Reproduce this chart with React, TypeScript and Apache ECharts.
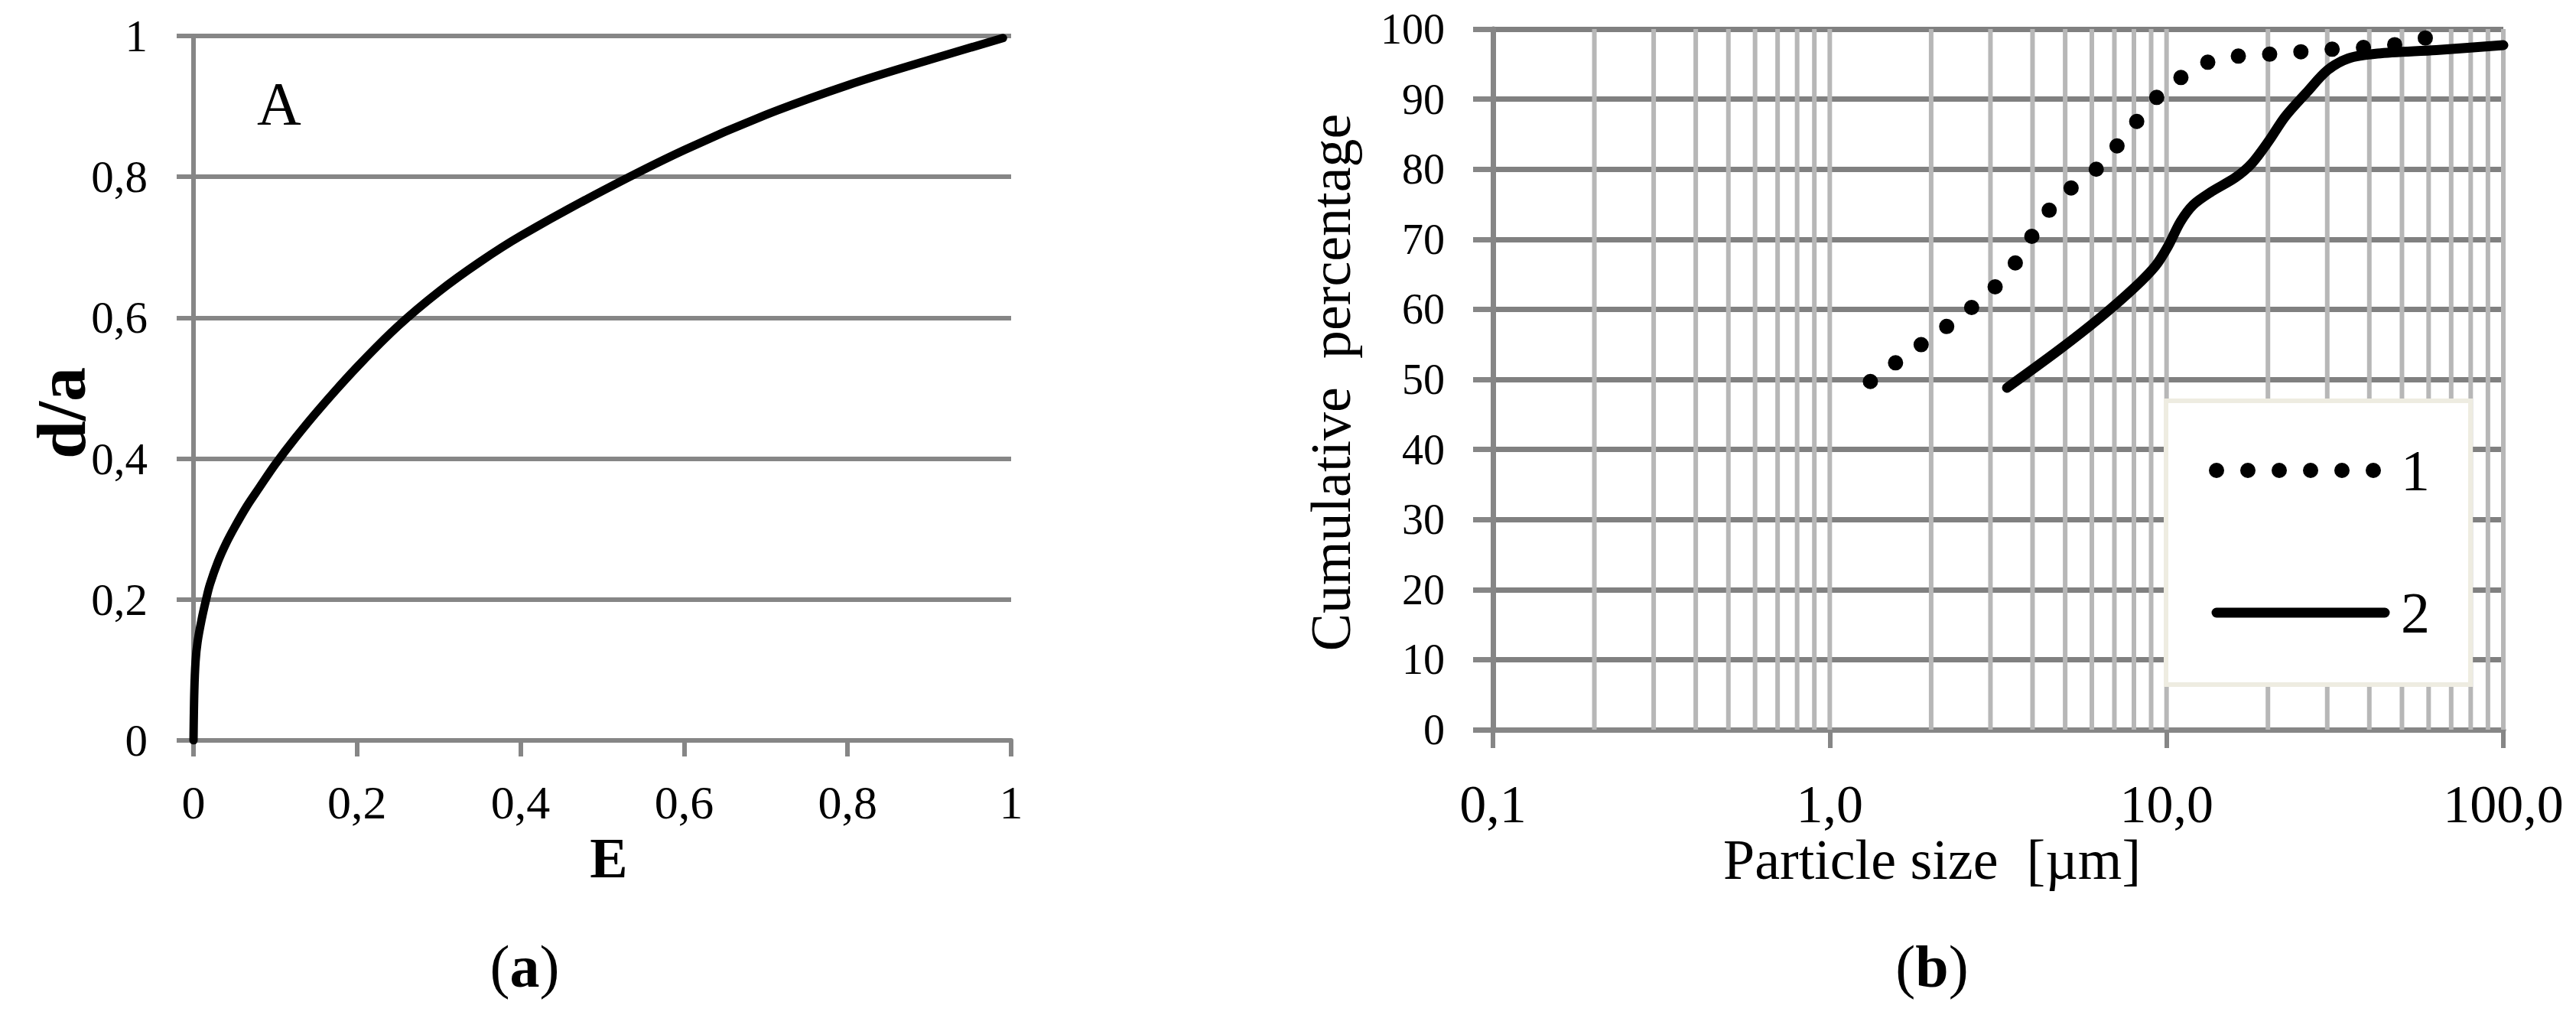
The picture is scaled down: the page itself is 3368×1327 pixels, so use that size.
import React, { useEffect, useRef } from "react";
import * as echarts from "echarts";

// ---------- Data ----------
// Panel (a): d/a versus E
const leftE = [0, 0.001, 0.0025, 0.005, 0.01, 0.015, 0.02, 0.03, 0.04, 0.05, 0.065, 0.08, 0.1, 0.125, 0.155, 0.2, 0.25, 0.3, 0.35, 0.4, 0.5, 0.6, 0.7, 0.8, 0.9, 0.99];
const leftDA = [0, 0.07, 0.112, 0.14, 0.172, 0.198, 0.221, 0.254, 0.28, 0.302, 0.332, 0.358, 0.392, 0.43, 0.472, 0.53, 0.588, 0.637, 0.679, 0.716, 0.78, 0.838, 0.888, 0.93, 0.966, 0.997];

// Panel (b): cumulative percentage versus particle size [µm]
const sizes1 = [1.32, 1.54, 1.81, 2.12, 2.49, 2.91, 3.34, 3.74, 4.11, 4.6, 5.31, 6.27, 7.12, 8.03, 9.11, 10.5, 12.3, 14.9, 18.1, 22.1, 26.7, 32.7, 39.5, 48.3, 58.4, 70.1];
const pct1 = [49.7, 52.1, 54.5, 56.8, 59.3, 61.9, 64.8, 68.1, 71.6, 74.9, 77.7, 80.2, 83.3, 86.4, 89.8, 92.3, 94.8, 96.0, 96.3, 96.5, 96.9, 97.2, 97.4, 97.8, 98.7, 100];
const sizes2 = [3.36, 4.79, 6.38, 8.03, 9.27, 10.1, 11.0, 12.0, 13.5, 16.0, 17.9, 20.1, 22.5, 26.0, 30.0, 34.6, 42.3, 63.2, 100];
const pct2 = [48.8, 54.2, 58.9, 63.1, 66.2, 69.0, 72.5, 74.9, 76.7, 78.8, 80.8, 84.0, 87.5, 90.9, 94.1, 95.8, 96.5, 97.0, 97.7];

const seriesNames = ["1", "2"];
// vertical grid lines of the logarithmic axis
const logGridValues = [0.2, 0.3, 0.4, 0.5, 0.6, 0.7, 0.8, 0.9, 1, 2, 3, 4, 5, 6, 7, 8, 9, 10, 20, 30, 40, 50, 60, 70, 80, 90, 100];

const titleA = "A";
const xNameA = "E";
const yNameA = "d/a";
const xNameB = "Particle size  [µm]";
const yNameB = "Cumulative  percentage";

// ---------- Styles ----------
const SERIF = '"Liberation Serif", "Times New Roman", serif';
const DARK = "#868686";
const LIGHT = "#b7b7b7";

const fmtLeft = (v: number) => String(Math.round(v * 10) / 10).replace(".", ",");
const fmtLog = (v: number) => Number(v).toFixed(1).replace(".", ",");

function buildOption() {
  return {
    animation: false,
    backgroundColor: "#ffffff",
    textStyle: { fontFamily: SERIF, color: "#000" },
    grid: [
      { left: 253, right: 2046, top: 47, bottom: 359, containLabel: false, outerBoundsMode: "none" },
      { left: 1952, right: 95, top: 38, bottom: 373, containLabel: false, outerBoundsMode: "none" },
    ],
    xAxis: [
      {
        gridIndex: 0,
        type: "value",
        min: 0,
        max: 1,
        interval: 0.2,
        axisLine: { show: true, onZero: false, lineStyle: { color: DARK, width: 6 } },
        axisTick: { show: true, length: 21, lineStyle: { color: DARK, width: 6 } },
        splitLine: { show: false },
        axisLabel: {
          fontSize: 62,
          lineHeight: 62,
          margin: 50,
          color: "#000",
          fontFamily: SERIF,
          formatter: fmtLeft,
          showMinLabel: true,
          showMaxLabel: true,
        },
      },
      {
        gridIndex: 1,
        type: "log",
        logBase: 10,
        min: 0.1,
        max: 100,
        axisLine: { show: true, onZero: false, lineStyle: { color: DARK, width: 7 } },
        axisTick: { show: true, length: 24, lineStyle: { color: DARK, width: 6 } },
        splitLine: { show: false },
        minorTick: { show: false },
        axisLabel: {
          fontSize: 70,
          lineHeight: 70,
          margin: 62,
          color: "#000",
          fontFamily: SERIF,
          formatter: fmtLog,
          showMinLabel: true,
          showMaxLabel: true,
        },
      },
    ],
    yAxis: [
      {
        gridIndex: 0,
        type: "value",
        min: 0,
        max: 1,
        interval: 0.2,
        axisLine: { show: true, onZero: false, lineStyle: { color: DARK, width: 6 } },
        axisTick: { show: true, length: 22, lineStyle: { color: DARK, width: 6 } },
        splitLine: { show: true, lineStyle: { color: DARK, width: 6 } },
        axisLabel: {
          fontSize: 59,
          lineHeight: 59,
          margin: 60,
          color: "#000",
          fontFamily: SERIF,
          formatter: fmtLeft,
          showMinLabel: true,
          showMaxLabel: true,
        },
      },
      {
        gridIndex: 1,
        type: "value",
        min: 0,
        max: 100,
        interval: 10,
        axisLine: { show: true, onZero: false, lineStyle: { color: DARK, width: 7 } },
        axisTick: { show: true, length: 26, lineStyle: { color: DARK, width: 7 } },
        splitLine: { show: true, lineStyle: { color: "#808080", width: 7 } },
        axisLabel: {
          fontSize: 56,
          lineHeight: 56,
          margin: 63,
          color: "#000",
          fontFamily: SERIF,
          showMinLabel: true,
          showMaxLabel: true,
        },
      },
    ],
    legend: {
      show: true,
      orient: "vertical",
      left: 2832,
      top: 524,
      data: seriesNames,
      itemWidth: 220,
      itemHeight: 20,
      itemGap: 106,
      padding: [51, 53, 54, 56],
      backgroundColor: "#ffffff",
      borderColor: "#eeece1",
      borderWidth: 6,
      textStyle: { fontFamily: SERIF, fontSize: 76, lineHeight: 80, color: "#000", padding: [0, 0, 0, 16] },
      lineStyle: { width: "inherit" },
      itemStyle: { opacity: 0 },
      selectedMode: false,
      z: 10,
    },
    series: [
      {
        name: "a-curve",
        type: "line",
        xAxisIndex: 0,
        yAxisIndex: 0,
        data: leftE.map((e, i) => [e, leftDA[i]]),
        smooth: 0.35,
        showSymbol: false,
        symbol: "none",
        z: 3,
        lineStyle: { color: "#000", width: 11, cap: "round", join: "round" },
      },
      {
        name: "log-grid",
        type: "custom",
        xAxisIndex: 1,
        yAxisIndex: 1,
        z: 1,
        silent: true,
        clip: false,
        data: logGridValues.map((v) => [v, 0]),
        renderItem: (params: any, api: any) => {
          const v = api.value(0);
          const a = api.coord([v, 0]);
          const b = api.coord([v, 100]);
          return {
            type: "line",
            shape: { x1: a[0], y1: a[1], x2: b[0], y2: b[1] },
            style: { stroke: LIGHT, lineWidth: 6 },
          };
        },
      },
      {
        name: seriesNames[0],
        type: "line",
        xAxisIndex: 1,
        yAxisIndex: 1,
        data: sizes1.map((s, i) => [s, pct1[i]]),
        showSymbol: false,
        symbol: "none",
        clip: true,
        z: 3,
        lineStyle: { color: "#000", width: 20, type: [0, 41], cap: "round", join: "round" },
      },
      {
        name: seriesNames[1],
        type: "line",
        xAxisIndex: 1,
        yAxisIndex: 1,
        data: sizes2.map((s, i) => [s, pct2[i]]),
        smooth: 0.3,
        showSymbol: false,
        symbol: "none",
        clip: true,
        z: 3,
        lineStyle: { color: "#000", width: 13, cap: "round", join: "round" },
      },
    ],
    graphic: {
      elements: [
        {
          type: "text",
          x: 365,
          y: 136,
          z: 20,
          style: { text: titleA, font: `80px ${SERIF}`, fill: "#000", align: "center", verticalAlign: "middle" },
        },
        {
          type: "text",
          x: 80,
          y: 540,
          rotation: Math.PI / 2,
          z: 20,
          style: { text: yNameA, font: `bold 90px ${SERIF}`, fill: "#000", align: "center", verticalAlign: "middle" },
        },
        {
          type: "text",
          x: 796,
          y: 1122,
          z: 20,
          style: { text: xNameA, font: `bold 74px ${SERIF}`, fill: "#000", align: "center", verticalAlign: "middle" },
        },
        {
          type: "text",
          x: 2526,
          y: 1124,
          z: 20,
          style: { text: xNameB, font: `74px ${SERIF}`, fill: "#000", align: "center", verticalAlign: "middle" },
        },
        {
          type: "text",
          x: 1740,
          y: 500,
          rotation: Math.PI / 2,
          z: 20,
          style: { text: yNameB, font: `74px ${SERIF}`, fill: "#000", align: "center", verticalAlign: "middle" },
        },
        {
          type: "text",
          x: 686,
          y: 1263,
          z: 20,
          style: {
            text: "({b|a})",
            font: `78px ${SERIF}`,
            fill: "#000",
            align: "center",
            verticalAlign: "middle",
            rich: { b: { fontWeight: "bold", fontSize: 78, fontFamily: SERIF, fill: "#000" } },
          },
        },
        {
          type: "text",
          x: 2526,
          y: 1263,
          z: 20,
          style: {
            text: "({b|b})",
            font: `78px ${SERIF}`,
            fill: "#000",
            align: "center",
            verticalAlign: "middle",
            rich: { b: { fontWeight: "bold", fontSize: 78, fontFamily: SERIF, fill: "#000" } },
          },
        },
      ],
    },
  };
}

export default function App() {
  const ref = useRef<HTMLDivElement>(null);
  useEffect(() => {
    if (!ref.current) return;
    const chart = echarts.init(ref.current, null, { renderer: "svg" });
    chart.setOption(buildOption() as any);
    return () => {
      chart.dispose();
    };
  }, []);
  return (
    <div
      ref={ref}
      style={{ position: "fixed", left: 0, top: 0, width: 3368, height: 1327, background: "#fff" }}
    />
  );
}
